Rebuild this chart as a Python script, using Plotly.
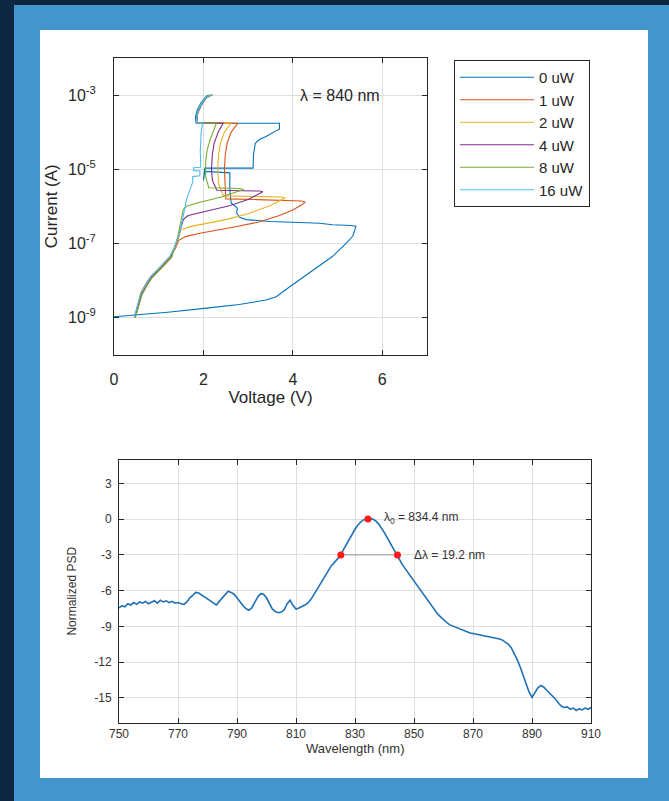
import plotly.graph_objects as go

W, H = 669, 801

# ---------------- I-V curves (voltage in V, log10 of current in A) ----------------
series_names = ["0 uW", "1 uW", "2 uW", "4 uW", "8 uW", "16 uW"]
series_colors = ["#0072BD", "#D95319", "#EDB120", "#7E2F8E", "#77AC30", "#4DBEEE"]

v_0uw = [0.00, 0.50, 1.20, 2.07, 2.80, 3.40, 3.63, 3.90, 4.15, 4.50, 4.89, 5.15, 5.34, 5.41, 5.30,
         4.89, 4.60, 4.15, 3.50, 2.96, 2.81, 2.74, 2.76, 2.62, 2.59, 2.59, 2.30, 2.03, 2.00, 2.03,
         2.60, 3.11, 3.12, 3.16, 3.25, 3.40, 3.60, 3.70, 3.70, 3.00, 2.40, 1.84, 1.82, 1.86, 1.95,
         2.05, 2.12]
logi_0uw = [-8.98, -8.93, -8.86, -8.75, -8.65, -8.53, -8.44, -8.20, -7.99, -7.68, -7.35, -7.05, -6.81,
            -6.54, -6.52, -6.50, -6.46, -6.44, -6.41, -6.36, -6.30, -6.18, -6.05, -5.91, -5.55, -5.10,
            -5.08, -5.06, -5.30, -4.97, -4.97, -4.97, -4.60, -4.30, -4.20, -4.12, -3.98, -3.92, -3.76,
            -3.76, -3.76, -3.76, -3.60, -3.40, -3.20, -3.05, -3.00]

v_1uw = [0.46, 0.52, 0.60, 0.72, 0.82, 1.05, 1.26, 1.38, 1.45, 1.60, 1.92, 2.60, 3.26, 3.70, 4.00,
         4.20, 4.28, 4.20, 3.80, 3.20, 2.50, 2.48, 2.47, 2.49, 2.53, 2.62, 2.71, 2.77, 2.30, 1.84,
         1.86, 1.93, 2.03, 2.15]
logi_1uw = [-9.00, -8.70, -8.33, -8.08, -7.90, -7.62, -7.36, -7.12, -6.92, -6.82, -6.73, -6.58, -6.42,
            -6.25, -6.10, -5.96, -5.89, -5.86, -5.84, -5.82, -5.80, -5.40, -5.00, -4.60, -4.30, -4.00,
            -3.85, -3.76, -3.75, -3.74, -3.50, -3.30, -3.10, -3.00]

v_2uw = [0.47, 0.53, 0.61, 0.73, 0.83, 1.06, 1.27, 1.40, 1.50, 1.70, 1.92, 2.50, 3.00, 3.50, 3.83,
         3.75, 3.30, 2.80, 2.45, 2.34, 2.32, 2.34, 2.38, 2.47, 2.56, 2.62, 2.20, 1.85, 1.87, 1.94,
         2.05, 2.18]
logi_2uw = [-9.00, -8.72, -8.36, -8.10, -7.91, -7.63, -7.36, -7.02, -6.63, -6.55, -6.50, -6.36, -6.20,
            -5.98, -5.78, -5.75, -5.74, -5.73, -5.72, -5.40, -5.00, -4.60, -4.30, -4.00, -3.85, -3.76,
            -3.75, -3.74, -3.50, -3.28, -3.08, -2.99]

v_4uw = [0.47, 0.54, 0.62, 0.74, 0.84, 1.07, 1.28, 1.42, 1.55, 1.66, 2.00, 2.60, 3.00, 3.33, 3.25,
         2.90, 2.30, 2.20, 2.18, 2.20, 2.24, 2.33, 2.40, 2.44, 2.10, 1.85, 1.87, 1.95, 2.06, 2.20]
logi_4uw = [-9.00, -8.73, -8.37, -8.11, -7.92, -7.64, -7.37, -6.90, -6.36, -6.25, -6.15, -5.98, -5.82,
            -5.61, -5.59, -5.58, -5.57, -5.30, -5.00, -4.60, -4.30, -4.00, -3.85, -3.76, -3.75, -3.74,
            -3.50, -3.28, -3.08, -2.99]

v_8uw = [0.48, 0.55, 0.63, 0.75, 0.85, 1.08, 1.29, 1.43, 1.55, 1.62, 1.90, 2.40, 2.90, 2.80, 2.40,
         2.12, 2.05, 2.05, 2.08, 2.15, 2.23, 2.29, 2.00, 1.84, 1.86, 1.94, 2.05, 2.19]
logi_8uw = [-9.00, -8.74, -8.38, -8.12, -7.93, -7.65, -7.38, -6.80, -6.09, -6.00, -5.90, -5.75, -5.55,
            -5.52, -5.51, -5.50, -5.20, -4.80, -4.50, -4.20, -3.95, -3.76, -3.75, -3.74, -3.50, -3.28,
            -3.08, -2.99]

v_16uw = [0.45, 0.52, 0.60, 0.72, 0.82, 1.04, 1.25, 1.36, 1.47, 1.55, 1.62, 1.70, 1.76, 1.76, 1.92,
          1.92, 1.78, 1.78, 1.94, 1.93, 1.95, 1.98, 1.90, 1.84, 1.86, 1.93, 2.04, 2.18]
logi_16uw = [-9.00, -8.72, -8.35, -8.09, -7.90, -7.62, -7.35, -7.08, -6.72, -6.25, -5.82, -5.55, -5.35,
             -5.20, -5.18, -5.05, -5.04, -4.96, -4.95, -4.50, -4.00, -3.76, -3.75, -3.74, -3.50, -3.28,
             -3.08, -2.99]

iv_voltages = [v_0uw, v_1uw, v_2uw, v_4uw, v_8uw, v_16uw]
iv_log_currents = [logi_0uw, logi_1uw, logi_2uw, logi_4uw, logi_8uw, logi_16uw]

iv_xticks = [0, 2, 4, 6]
iv_yticks = [1e-9, 1e-7, 1e-5, 1e-3]
iv_yticktext = ["10<sup>-9</sup>", "10<sup>-7</sup>", "10<sup>-5</sup>", "10<sup>-3</sup>"]

# ---------------- Spectrum ----------------
wavelength_nm = list(range(750, 911))
psd_db = [
    -7.45, -7.25, -7.35, -7.10, -7.20, -7.00, -7.15, -6.95, -7.05, -6.90,   # 750-759
    -7.10, -6.95, -6.85, -7.05, -6.80, -6.95, -6.85, -7.00, -6.90, -7.05,   # 760-769
    -7.00, -7.10, -7.15, -6.95, -6.60, -6.40, -6.15, -6.20, -6.35, -6.55,   # 770-779
    -6.70, -6.85, -7.05, -7.20, -6.90, -6.60, -6.30, -6.05, -6.15, -6.30,   # 780-789
    -6.60, -6.95, -7.25, -7.50, -7.65, -7.45, -7.00, -6.55, -6.25, -6.30,   # 790-799
    -6.60, -7.05, -7.55, -7.75, -7.85, -7.80, -7.60, -7.10, -6.80, -7.25,   # 800-809
    -7.55, -7.45, -7.35, -7.20, -7.05, -6.75, -6.35, -5.95, -5.50, -5.10,   # 810-819
    -4.65, -4.25, -3.90, -3.65, -3.35, -3.05, -2.60, -2.15, -1.70, -1.25,   # 820-829
    -0.85, -0.50, -0.22, -0.05, 0.00, 0.02, 0.00, -0.15, -0.40, -0.75,     # 830-839
    -1.15, -1.60, -2.05, -2.55, -2.95, -3.40, -3.80, -4.15, -4.50, -4.85,   # 840-849
    -5.20, -5.55, -5.90, -6.25, -6.65, -7.00, -7.35, -7.65, -7.95, -8.20,   # 850-859
    -8.45, -8.65, -8.85, -8.95, -9.10, -9.20, -9.30, -9.35, -9.45, -9.55,   # 860-869
    -9.60, -9.65, -9.70, -9.75, -9.80, -9.85, -9.90, -9.95, -9.95, -10.05,  # 870-879
    -10.15, -10.30, -10.50, -10.80, -11.25, -11.80, -12.40, -13.10, -13.80, -14.50,  # 880-889
    -14.95, -14.55, -14.15, -13.95, -14.10, -14.35, -14.60, -14.80, -15.10, -15.45,  # 890-899
    -15.70, -15.80, -15.75, -15.95, -15.85, -16.05, -15.90, -16.00, -15.85, -15.95,  # 900-909
    -15.80,                                                                  # 910
]
peak_wavelength = 834.4
fwhm_left, fwhm_right = 825.2, 844.4
marker_wavelengths = [peak_wavelength, fwhm_left, fwhm_right]
marker_values = [0.0, -3.0, -3.0]
fwhm_line_x = [fwhm_left, fwhm_right]
fwhm_line_y = [-3.0, -3.0]
spec_xticks = [750, 770, 790, 810, 830, 850, 870, 890, 910]
spec_yticks = [3, 0, -3, -6, -9, -12, -15]
spec_yticktext = ["3", "0", "-3", "-6", "-9", "-12", "-15"]

FONT = "Liberation Sans, Arial, Helvetica, sans-serif"
AXC = "#262626"
GRID = "#dedede"
TXT2 = "#333333"

fig = go.Figure()

for name, color, vs, ls in zip(series_names, series_colors, iv_voltages, iv_log_currents):
    fig.add_trace(go.Scatter(
        x=vs, y=[10 ** l for l in ls], mode="lines", name=name,
        line=dict(color=color, width=1.1), legendgroup=name,
        xaxis="x", yaxis="y"))

fig.add_trace(go.Scatter(
    x=wavelength_nm, y=psd_db, mode="lines", showlegend=False,
    line=dict(color="#1f6fb5", width=1.6), xaxis="x2", yaxis="y2"))
fig.add_trace(go.Scatter(
    x=fwhm_line_x, y=fwhm_line_y, mode="lines", showlegend=False,
    line=dict(color="#9a9a9a", width=1), xaxis="x2", yaxis="y2"))
fig.add_trace(go.Scatter(
    x=marker_wavelengths, y=marker_values, mode="markers", showlegend=False,
    marker=dict(color="#ff1a1a", size=7), xaxis="x2", yaxis="y2"))

# layout geometry (figure pixels -> paper fractions)
def fx(px):
    return px / W

def fy(py):
    return 1 - py / H

axis_common = dict(
    showline=True, linecolor=AXC, linewidth=1, mirror="allticks",
    ticks="inside", ticklen=5, tickcolor=AXC, showgrid=True, gridcolor=GRID,
    gridwidth=1, zeroline=False, automargin=False,
)

fig.update_layout(
    width=W, height=H,
    margin=dict(l=0, r=0, t=0, b=0, pad=0, autoexpand=False),
    paper_bgcolor="#0d2741",
    plot_bgcolor="white",
    font=dict(family=FONT, color=AXC),
    showlegend=True,
    legend=dict(
        x=fx(454), y=fy(60), xanchor="left", yanchor="top",
        bgcolor="white", bordercolor=AXC, borderwidth=1,
        font=dict(size=15, color=AXC, family=FONT),
        itemwidth=74, tracegroupgap=0,
    ),
    xaxis=dict(
        domain=[fx(114), fx(427)], range=[0, 7], tickvals=iv_xticks,
        tickfont=dict(size=16, color=AXC), anchor="y", ticklabelstandoff=10,
        title=dict(text="Voltage (V)", font=dict(size=17, color=AXC), standoff=1),
        **axis_common),
    yaxis=dict(
        domain=[fy(354.5), fy(58)], type="log", range=[-10, -2],
        tickvals=iv_yticks, ticktext=iv_yticktext, anchor="x",
        tickfont=dict(size=16, color=AXC), ticklabelstandoff=14,
        title=dict(text="Current (A)", font=dict(size=17, color=AXC), standoff=6),
        **axis_common),
    xaxis2=dict(
        domain=[fx(119), fx(591)], range=[750, 910], tickvals=spec_xticks,
        tickfont=dict(size=12, color=TXT2), anchor="y2", ticklabelstandoff=0,
        **axis_common),
    yaxis2=dict(
        domain=[fy(723), fy(459.5)], range=[-17.1, 5], tickvals=spec_yticks,
        ticktext=spec_yticktext,
        tickfont=dict(size=12, color=TXT2), anchor="x2", ticklabelstandoff=4,
        title=dict(text="Normalized PSD", font=dict(size=12, color=TXT2), standoff=15),
        **axis_common),
    shapes=[
        dict(type="rect", xref="paper", yref="paper", x0=fx(14), x1=1.0, y0=0.0, y1=fy(5),
             fillcolor="#4395cd", line=dict(width=0), layer="below"),
        dict(type="rect", xref="paper", yref="paper", x0=fx(40), x1=fx(648), y0=fy(778), y1=fy(30),
             fillcolor="white", line=dict(width=0), layer="below"),
    ],
    annotations=[
        dict(text="λ = 840 nm", x=4.12, y=-3, xref="x", yref="y", xanchor="left",
             yanchor="middle", showarrow=False, font=dict(size=16, color=AXC)),
        dict(text="λ<sub>0</sub> = 834.4 nm", x=839.3, y=0.1, xref="x2", yref="y2",
             xanchor="left", yanchor="middle", showarrow=False,
             font=dict(size=12, color=TXT2)),
        dict(text="Δλ = 19.2 nm", x=849.3, y=-3.0, xref="x2", yref="y2",
             xanchor="left", yanchor="middle", showarrow=False,
             font=dict(size=12, color=TXT2)),
        dict(text="Wavelength (nm)", x=0.5, xref="x2 domain", y=fy(748), yref="paper",
             xanchor="center", yanchor="middle", showarrow=False,
             font=dict(size=13, color=TXT2)),
    ],
)

fig.write_html("out.html", config={"displayModeBar": False},
               post_script="document.body.style.margin='0px';")
